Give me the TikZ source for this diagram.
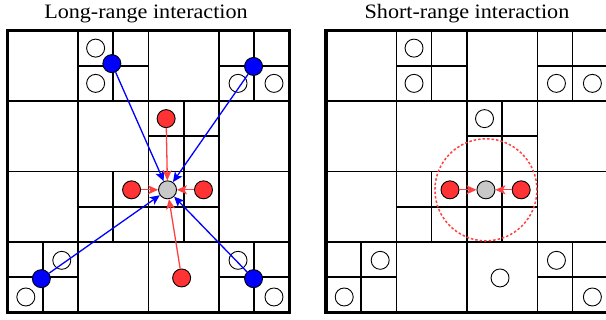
\documentclass[tikz,border=0pt]{standalone}
\usepackage{fontspec}
\setmainfont{Liberation Serif}
\newfontfamily\titlefont[FakeStretch=1.08]{Liberation Serif}
\usetikzlibrary{arrows.meta}
\definecolor{redfill}{RGB}{255,51,51}
\definecolor{redline}{RGB}{255,64,64}
\definecolor{bluefill}{RGB}{0,0,255}
\definecolor{grayfill}{RGB}{200,200,200}
\newcommand\quadgrid{%
  \draw[gridline]
    (0,1) -- (4,1) (0,2) -- (4,2) (0,3) -- (4,3)
    (1,0) -- (1,4) (2,0) -- (2,4) (3,0) -- (3,4)
    (1.5,0) -- (1.5,1) (1,0.5) -- (2,0.5)
    (3.5,0) -- (3.5,1) (3,0.5) -- (4,0.5)
    (2.5,1) -- (2.5,2) (2,1.5) -- (3,1.5)
    (1.5,2) -- (1.5,3) (1,2.5) -- (2,2.5)
    (2.5,2) -- (2.5,3) (2,2.5) -- (3,2.5)
    (0.5,3) -- (0.5,4) (0,3.5) -- (1,3.5)
    (3.5,3) -- (3.5,4) (3,3.5) -- (4,3.5);
  \draw[outerbox] (0,0) rectangle (4,4);
}
\begin{document}
\begin{tikzpicture}[x=1pt,y=-1pt,
  gridline/.style={line width=1.6pt, black},
  outerbox/.style={line width=3.2pt, black},
  particle/.style={circle, draw=black, line width=0.9pt, minimum size=18pt, inner sep=0pt},
  openp/.style={particle, fill=white},
  bluep/.style={particle, fill=bluefill},
  redp/.style={particle, fill=redfill},
  targetp/.style={particle, fill=grayfill},
  bluearrow/.style={draw=bluefill, line width=1.3pt, -{Stealth[length=10pt,width=9pt,inset=2.5pt]}},
  redarrow/.style={draw=redline, line width=1.3pt, -{Stealth[length=10pt,width=9pt,inset=2.5pt]}},
  cutoff/.style={draw=redline, dash pattern=on 2.5pt off 2pt, line width=1.5pt},
  titletext/.style={anchor=base, inner sep=0pt, font=\titlefont\fontsize{20.5}{24}\selectfont}]
\useasboundingbox (0,0) rectangle (606,320);
\clip (0,0) rectangle (606,320);

\node[titletext] (t1) at (146,18.5) {Long-range interaction};
\node[titletext] (t2) at (467,18.5) {Short-range interaction};

% left panel
\begin{scope}[shift={(7.5,30.5)}, x=70.5pt, y=-70.5pt]
  \quadgrid
  \node[openp] (L-a) at (1.25,0.25) {};
  \node[openp] (L-b) at (1.25,0.75) {};
  \node[bluep] (L-b1) at (1.48,0.47) {};
  \node[bluep] (L-b2) at (3.49,0.51) {};
  \node[openp] (L-c) at (3.27,0.75) {};
  \node[openp] (L-d) at (3.78,0.75) {};
  \node[redp] (L-rt) at (2.25,1.25) {};
  \node[targetp] (L-g) at (2.27,2.26) {};
  \node[redp] (L-rl) at (1.76,2.26) {};
  \node[redp] (L-rr) at (2.78,2.26) {};
  \node[openp] (L-e) at (0.77,3.26) {};
  \node[openp] (L-f) at (0.26,3.78) {};
  \node[bluep] (L-b3) at (0.48,3.52) {};
  \node[redp] (L-rb) at (2.47,3.51) {};
  \node[openp] (L-h) at (3.27,3.26) {};
  \node[bluep] (L-b4) at (3.49,3.52) {};
  \node[openp] (L-i) at (3.78,3.78) {};
  \draw[bluearrow] (L-b1) -- (L-g);
  \draw[bluearrow] (L-b2) -- (L-g);
  \draw[bluearrow] (L-b3) -- (L-g);
  \draw[bluearrow] (L-b4) -- (L-g);
  \draw[redarrow] (L-rt) -- (L-g);
  \draw[redarrow] (L-rl) -- (L-g);
  \draw[redarrow] (L-rr) -- (L-g);
  \draw[redarrow] (L-rb) -- (L-g);
\end{scope}

% right panel
\begin{scope}[shift={(325.9,30.5)}, x=70.5pt, y=-70.5pt]
  \quadgrid
  \coordinate (R-gc) at (2.27,2.26);
  \draw[cutoff] (R-gc) circle[radius=51pt];
  \node[openp] (R-a) at (1.25,0.25) {};
  \node[openp] (R-b) at (1.25,0.75) {};
  \node[openp] (R-c) at (3.27,0.75) {};
  \node[openp] (R-d) at (3.78,0.75) {};
  \node[openp] (R-t) at (2.25,1.25) {};
  \node[targetp] (R-g) at (2.27,2.26) {};
  \node[redp] (R-rl) at (1.76,2.26) {};
  \node[redp] (R-rr) at (2.77,2.26) {};
  \node[openp] (R-e) at (0.77,3.26) {};
  \node[openp] (R-f) at (0.26,3.78) {};
  \node[openp] (R-m) at (2.47,3.51) {};
  \node[openp] (R-h) at (3.27,3.26) {};
  \node[openp] (R-i) at (3.78,3.78) {};
  \draw[redarrow] (R-rl) -- (R-g);
  \draw[redarrow] (R-rr) -- (R-g);
\end{scope}
\end{tikzpicture}
\end{document}
